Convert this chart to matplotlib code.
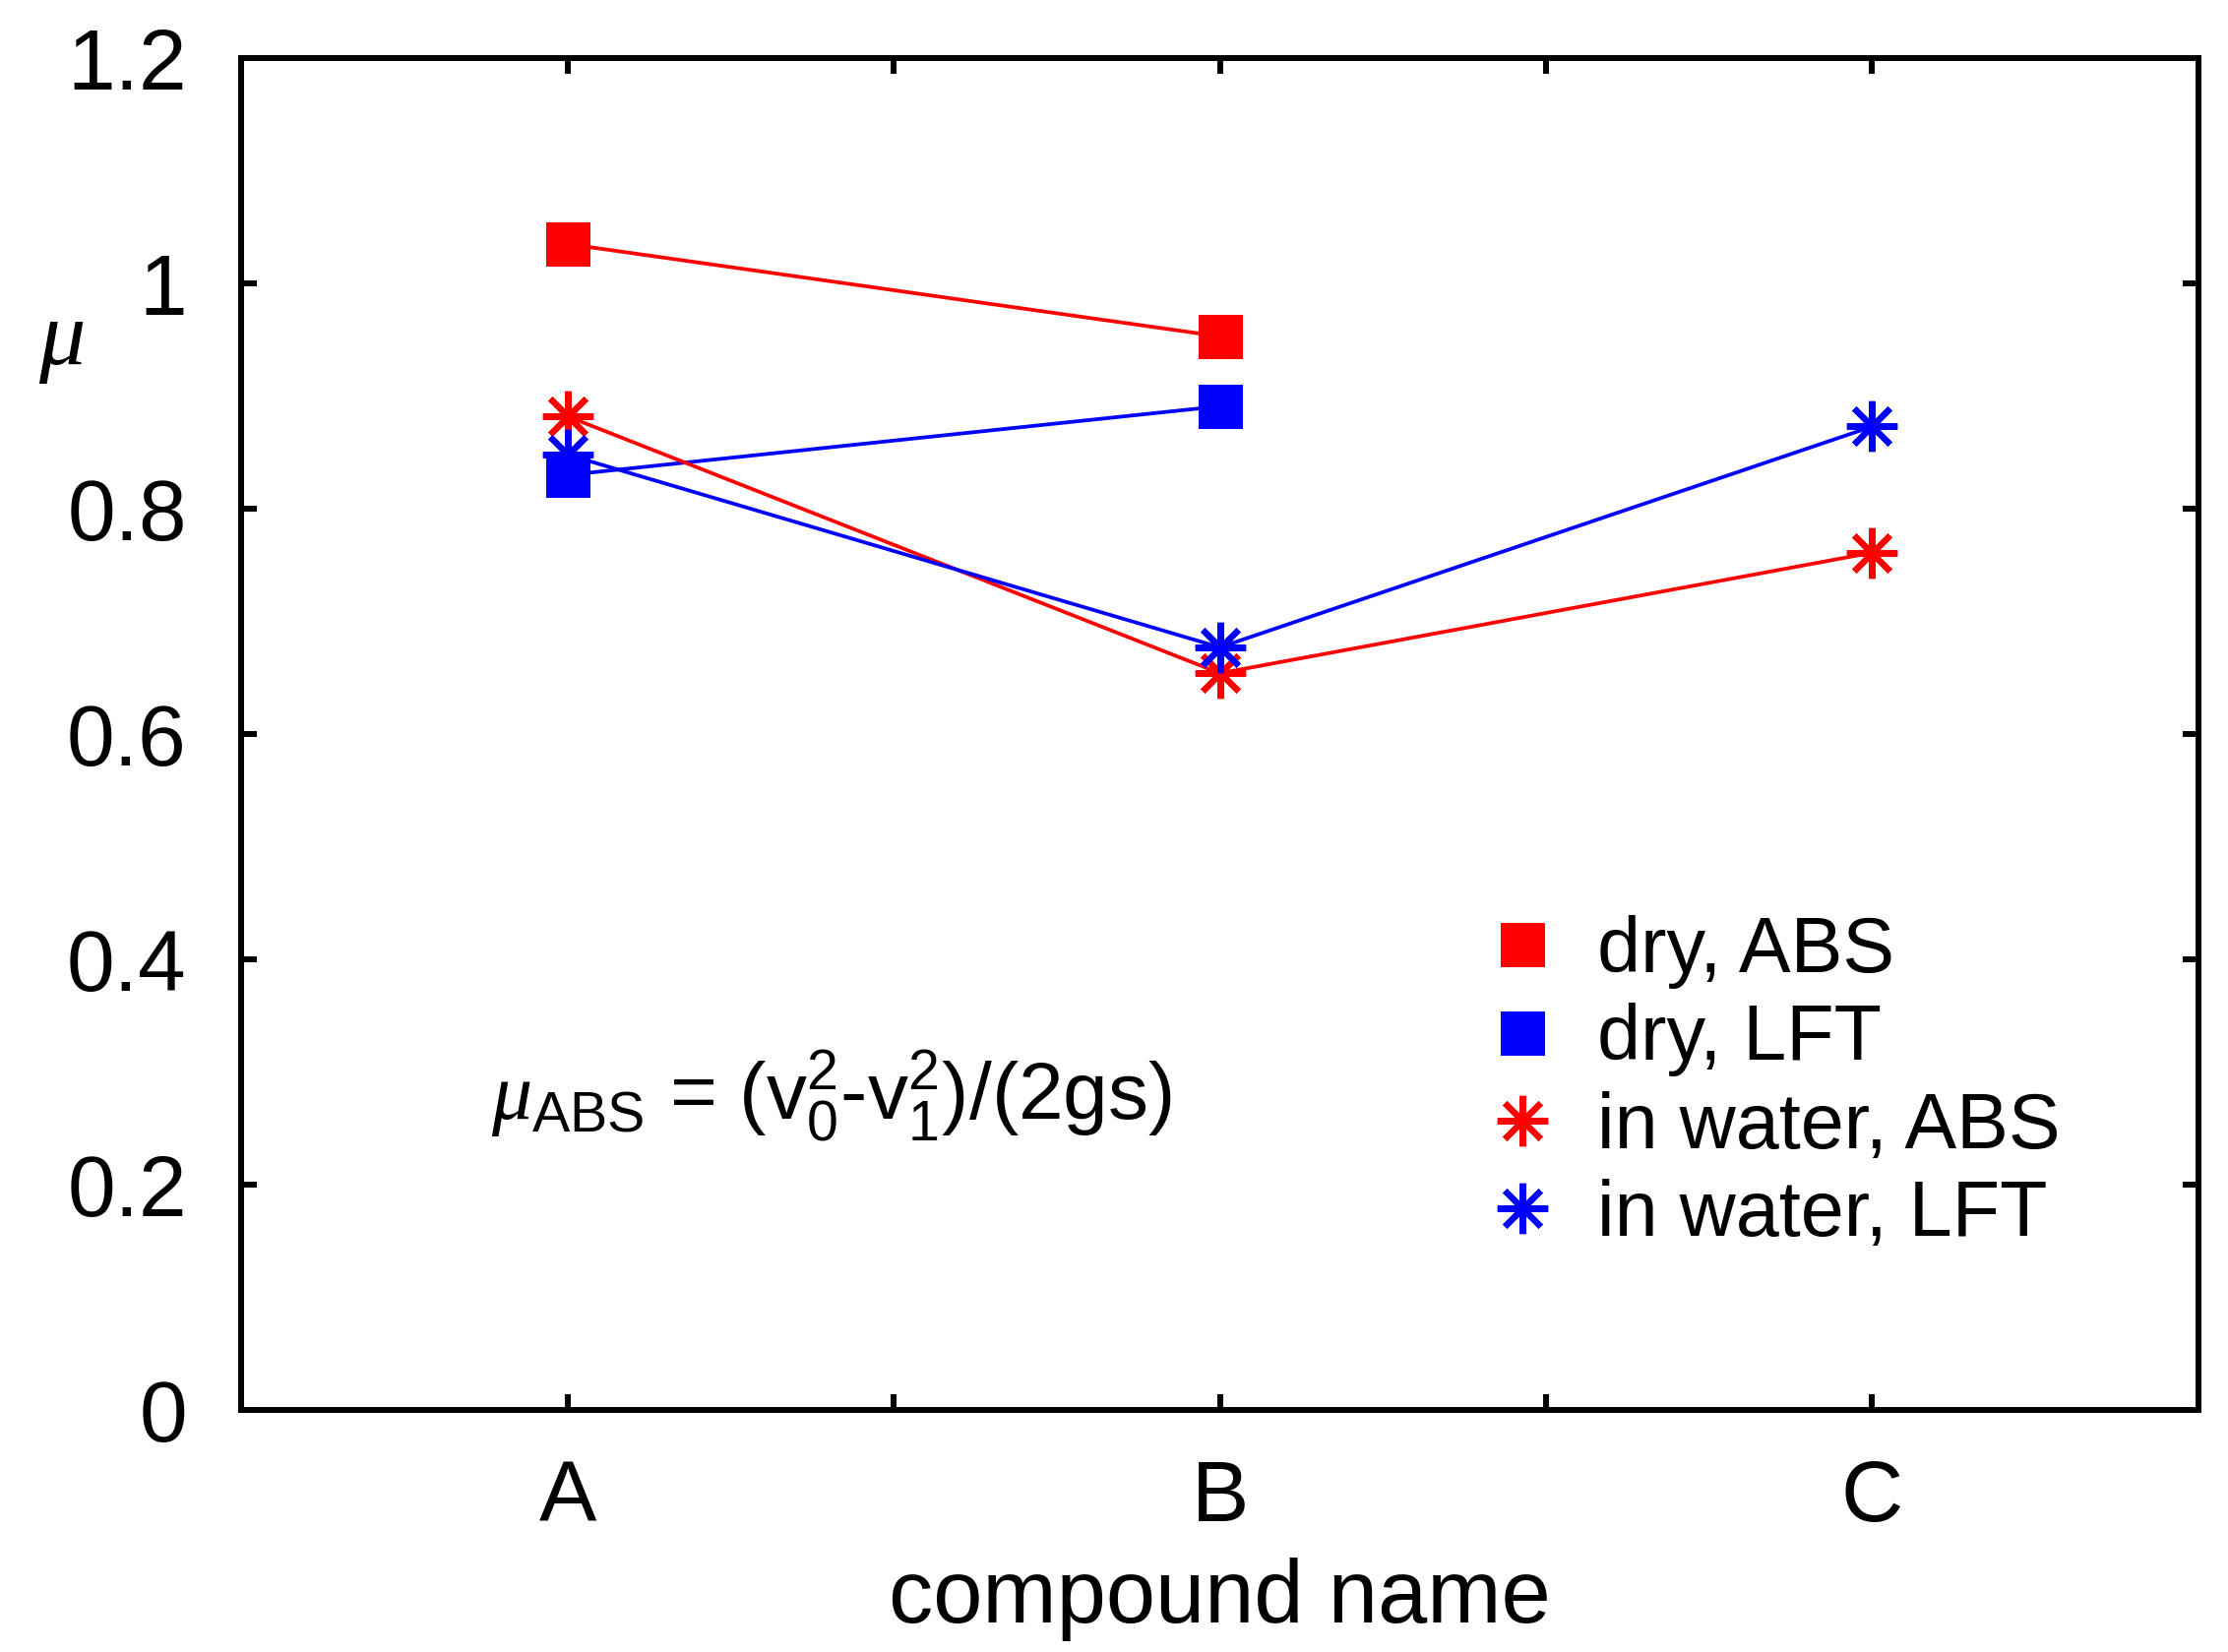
import matplotlib
matplotlib.use('Agg')
import matplotlib.pyplot as plt
import numpy as np
from matplotlib.lines import Line2D

plt.rcParams['font.family'] = ['Liberation Sans', 'DejaVu Sans']
plt.rcParams['mathtext.fontset'] = 'custom'
plt.rcParams['mathtext.rm'] = 'Liberation Sans'
plt.rcParams['mathtext.it'] = 'Liberation Serif:italic'
plt.rcParams['mathtext.default'] = 'rm'

# data
compounds = ['A', 'B', 'C']
x_pos = [1, 2, 3]
dry_abs = [1.035, 0.953, np.nan]
dry_lft = [0.830, 0.891, np.nan]
water_abs = [0.882, 0.654, 0.761]
water_lft = [0.848, 0.677, 0.873]
series_labels = ['dry, ABS', 'dry, LFT', 'in water, ABS', 'in water, LFT']
y_ticks = [0, 0.2, 0.4, 0.6, 0.8, 1.0, 1.2]
y_ticklabels = ['0', '0.2', '0.4', '0.6', '0.8', '1', '1.2']

red = '#ff0000'
blue = '#0000ff'
star = (8, 2, 0)

fig = plt.figure(figsize=(22.64, 16.79), dpi=100)
ax = fig.add_axes([0.1084, 0.1465, 0.8783, 0.8183])

lw = 2.7
sq = dict(marker='s', markersize=32.4, markeredgewidth=0)
st = dict(marker=star, markersize=37, markeredgewidth=4.5)

ax.plot(x_pos, dry_abs, color=red, lw=lw, **sq)
ax.plot(x_pos, dry_lft, color=blue, lw=lw, **sq)
ax.plot(x_pos, water_abs, color=red, lw=lw, **st)
ax.plot(x_pos, water_lft, color=blue, lw=lw, **st)

ax.set_xlim(0.5, 3.5)
ax.set_ylim(0, 1.2)
ax.set_xticks(x_pos)
ax.set_xticklabels(compounds)
ax.set_xticks([1.5, 2.5], minor=True)
ax.set_yticks(y_ticks)
ax.set_yticklabels(y_ticklabels)

for s in ax.spines.values():
    s.set_linewidth(4.3)
ax.tick_params(which='both', direction='in', length=11.5, width=4.3,
               top=True, right=True)
ax.tick_params(axis='y', labelsize=63, pad=40)
ax.tick_params(axis='x', labelsize=63, pad=36)

ax.set_xlabel('compound name', fontsize=65, labelpad=14)
ax.set_ylabel(r'$\mathit{\mu}$', fontsize=68, rotation=0, ha='center', va='center')
ax.yaxis.set_label_coords(-0.092, 0.79)

ax.text(0.1275, 0.2154, r'$\mathit{\mu}_{ABS}$ = (v$_0^2$-v$_1^2$)/(2gs)',
        transform=ax.transAxes, fontsize=59, ha='left', va='baseline')

handles = [
    Line2D([], [], color=red, linestyle='none', **sq),
    Line2D([], [], color=blue, linestyle='none', **sq),
    Line2D([], [], color=red, linestyle='none', **st),
    Line2D([], [], color=blue, linestyle='none', **st),
]
ax.legend(handles, series_labels, loc='upper left', bbox_to_anchor=(0.6347, 0.366),
          frameon=False, fontsize=57, handlelength=1.0, handletextpad=0.46,
          labelspacing=0.18, borderpad=0, borderaxespad=0)

fig.savefig('out.png', dpi=100)
